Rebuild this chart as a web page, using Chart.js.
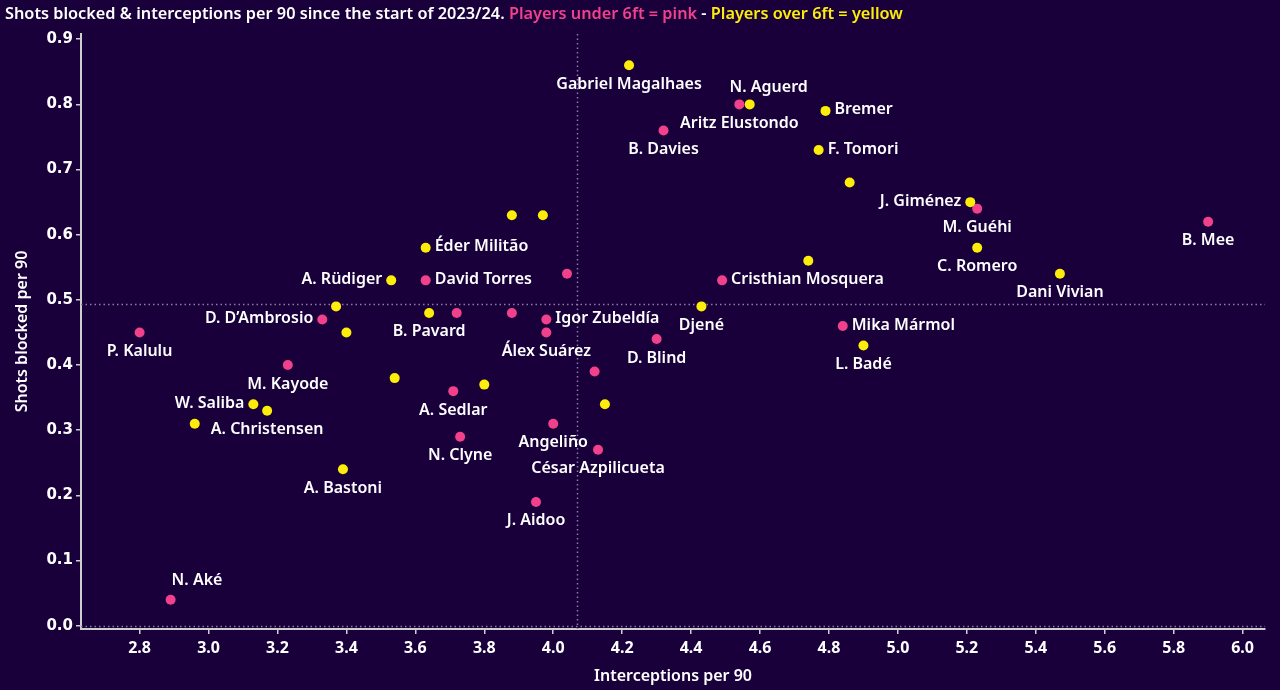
<!DOCTYPE html>
<html><head><meta charset="utf-8">
<script src="https://cdn.jsdelivr.net/npm/chart.js@4.4.1/dist/chart.umd.min.js"></script>
<style>html,body{margin:0;padding:0;background:#19003b;}#wrap{width:1280px;height:690px;position:relative}canvas{display:block}</style>
</head><body><div id="wrap"><canvas id="c"></canvas></div>
<script>
// ---- data ----
const players = [
 "Gabriel Magalhaes","N. Aguerd","Aritz Elustondo","Bremer","B. Davies","F. Tomori","","J. Giménez","M. Guéhi","B. Mee",
 "C. Romero","","Dani Vivian","Cristhian Mosquera","","","Éder Militão","","A. Rüdiger","David Torres",
 "","D. D’Ambrosio","B. Pavard","","","Igor Zubeldía","Álex Suárez","","P. Kalulu","Djené",
 "D. Blind","Mika Mármol","L. Badé","M. Kayode","","A. Sedlar","","","W. Saliba","A. Christensen",
 "","","Angeliño","N. Clyne","César Azpilicueta","A. Bastoni","J. Aidoo","N. Aké"
];
const interceptions = [
 4.22,4.57,4.54,4.79,4.32,4.77,4.86,5.21,5.23,5.90,
 5.23,4.74,5.47,4.49,3.88,3.97,3.63,4.04,3.53,3.63,
 3.37,3.33,3.64,3.72,3.88,3.98,3.98,3.40,2.80,4.43,
 4.30,4.84,4.90,3.23,3.54,3.71,3.80,4.12,3.13,3.17,
 2.96,4.15,4.00,3.73,4.13,3.39,3.95,2.89
];
const shotsBlocked = [
 0.86,0.80,0.80,0.79,0.76,0.73,0.68,0.65,0.64,0.62,
 0.58,0.56,0.54,0.53,0.63,0.63,0.58,0.54,0.53,0.53,
 0.49,0.47,0.48,0.48,0.48,0.47,0.45,0.45,0.45,0.49,
 0.44,0.46,0.43,0.40,0.38,0.36,0.37,0.39,0.34,0.33,
 0.31,0.34,0.31,0.29,0.27,0.24,0.19,0.04
];
const overSixFeet = [
 true,true,false,true,false,true,true,true,false,false,
 true,true,true,false,true,true,true,false,true,false,
 true,false,true,false,false,false,false,true,false,true,
 false,false,true,false,true,false,true,false,true,true,
 true,true,false,false,false,true,false,false
];
const xTicks = [2.8,3.0,3.2,3.4,3.6,3.8,4.0,4.2,4.4,4.6,4.8,5.0,5.2,5.4,5.6,5.8,6.0];
const yTicks = [0.0,0.1,0.2,0.3,0.4,0.5,0.6,0.7,0.8,0.9];
const avgInterceptions = 4.07;
const avgShotsBlocked = 0.493;

// ---- styles ----
const BG = '#19003b', PINK = '#f2418c', YELLOW = '#fcee0a', WHITE = '#ffffff';
const labelPlace = {
 "Gabriel Magalhaes":"below","N. Aguerd":"aboveRight","Aritz Elustondo":"below","Bremer":"right",
 "B. Davies":"below","F. Tomori":"right","J. Giménez":"left","M. Guéhi":"below","B. Mee":"below",
 "C. Romero":"below","Dani Vivian":"below","Cristhian Mosquera":"right","Éder Militão":"right",
 "A. Rüdiger":"left","David Torres":"right","D. D’Ambrosio":"left","B. Pavard":"below",
 "Igor Zubeldía":"right","Álex Suárez":"below","P. Kalulu":"below","Djené":"below","D. Blind":"below",
 "Mika Mármol":"right","L. Badé":"below","M. Kayode":"below","A. Sedlar":"below","W. Saliba":"left",
 "A. Christensen":"below","Angeliño":"below","N. Clyne":"below","César Azpilicueta":"below",
 "A. Bastoni":"below","J. Aidoo":"below","N. Aké":"aboveStart"
};

function pts(flag){
  const out=[];
  players.forEach((p,i)=>{ if(overSixFeet[i]===flag) out.push({x:interceptions[i],y:shotsBlocked[i],name:p}); });
  return out;
}

const bgPlugin = {
  id:'bg',
  beforeDraw(chart){ const c=chart.ctx; c.save(); c.fillStyle=BG; c.fillRect(0,0,chart.width,chart.height); c.restore(); }
};

const refPlugin = {
  id:'refs',
  beforeDatasetsDraw(chart){
    const {ctx, chartArea:a, scales:{x,y}} = chart;
    ctx.save();
    ctx.strokeStyle='#8a7ca0'; ctx.lineWidth=1.5; ctx.setLineDash([1.5,3]);
    const yy=Math.round(y.getPixelForValue(avgShotsBlocked))+0.5;
    ctx.beginPath(); ctx.moveTo(a.left,yy); ctx.lineTo(a.right,yy); ctx.stroke();
    const y0=Math.round(y.getPixelForValue(0))+0.5;
    ctx.beginPath(); ctx.moveTo(a.left,y0); ctx.lineTo(a.right,y0); ctx.stroke();
    const xx=Math.round(x.getPixelForValue(avgInterceptions))+0.5;
    ctx.beginPath(); ctx.moveTo(xx,a.top); ctx.lineTo(xx,a.bottom); ctx.stroke();
    ctx.restore();
  }
};

const labelPlugin = {
  id:'labels',
  afterDatasetsDraw(chart){
    const ctx=chart.ctx;
    ctx.save();
    ctx.font='600 16px "Noto Sans"';
    ctx.fillStyle=WHITE; ctx.textBaseline='middle';
    chart.data.datasets.forEach((ds,di)=>{
      const meta=chart.getDatasetMeta(di);
      meta.data.forEach((el,i)=>{
        const name=ds.data[i].name; if(!name) return;
        const pl=labelPlace[name]||'below';
        let dx=0,dy=19,al='center';
        if(pl==='right'){dx=9;dy=-1;al='left';}
        else if(pl==='left'){dx=-9;dy=-1;al='right';}
        else if(pl==='aboveRight'){dx=19;dy=-17;al='center';}
        else if(pl==='aboveStart'){dx=1;dy=-19;al='left';}
        ctx.textAlign=al;
        ctx.fillText(name, el.x+dx, el.y+dy);
      });
    });
    ctx.restore();
  }
};

const titlePlugin = {
  id:'title2',
  afterDraw(chart){
    const ctx=chart.ctx; ctx.save();
    ctx.font='600 16.3px "Noto Sans"'; ctx.textBaseline='middle'; ctx.textAlign='left';
    const parts=[["Shots blocked & interceptions per 90 since the start of 2023/24. ",WHITE],["Players under 6ft = pink",PINK],[" - ",WHITE],["Players over 6ft = yellow",YELLOW]];
    let x=5;
    parts.forEach(([t,c])=>{ ctx.fillStyle=c; ctx.fillText(t,x,14); x+=ctx.measureText(t).width; });
    ctx.restore();
  }
};

new Chart(document.getElementById('c'),{
  type:'scatter',
  data:{datasets:[
    {label:'Players over 6ft',data:pts(true),backgroundColor:YELLOW,borderWidth:0,pointRadius:5,pointHoverRadius:5},
    {label:'Players under 6ft',data:pts(false),backgroundColor:PINK,borderWidth:0,pointRadius:5,pointHoverRadius:5}
  ]},
  options:{
    responsive:true, maintainAspectRatio:false, animation:false,
    layout:{padding:{top:34,right:15,left:13,bottom:4}},
    plugins:{legend:{display:false},tooltip:{enabled:false}},
    scales:{
      x:{type:'linear',min:2.63,max:6.065,
        afterBuildTicks(ax){ax.ticks=xTicks.map(v=>({value:v}));},
        afterFit(ax){ax.height=57;},
        grid:{drawOnChartArea:false,drawTicks:true,tickLength:5,color:'#cfcfcf',lineWidth:1.5},
        border:{display:true,color:'#cfcfcf',width:2},
        ticks:{color:WHITE,padding:5,font:{family:'"Liberation Sans Narrow", "Noto Sans"',size:16,weight:'bold'},callback:v=>v.toFixed(1)},
        title:{display:true,text:'Interceptions per 90',color:WHITE,font:{family:'"Noto Sans"',size:16,weight:'600'},padding:{top:2,bottom:0}}
      },
      y:{type:'linear',min:-0.005,max:0.908,
        afterBuildTicks(ax){ax.ticks=yTicks.map(v=>({value:v}));},
        afterFit(ax){ax.width=68;},
        grid:{drawOnChartArea:false,drawTicks:true,tickLength:5,color:'#cfcfcf',lineWidth:1.5},
        border:{display:true,color:'#cfcfcf',width:2},
        ticks:{color:WHITE,padding:3,font:{family:'"DejaVu Sans"',size:15,weight:'bold'},callback:v=>v.toFixed(1)},
        title:{display:true,text:'Shots blocked per 90',color:WHITE,font:{family:'"Noto Sans"',size:16,weight:'600'},padding:{top:0,bottom:4}}
      }
    }
  },
  plugins:[bgPlugin,refPlugin,labelPlugin,titlePlugin]
});
</script>
</body></html>
